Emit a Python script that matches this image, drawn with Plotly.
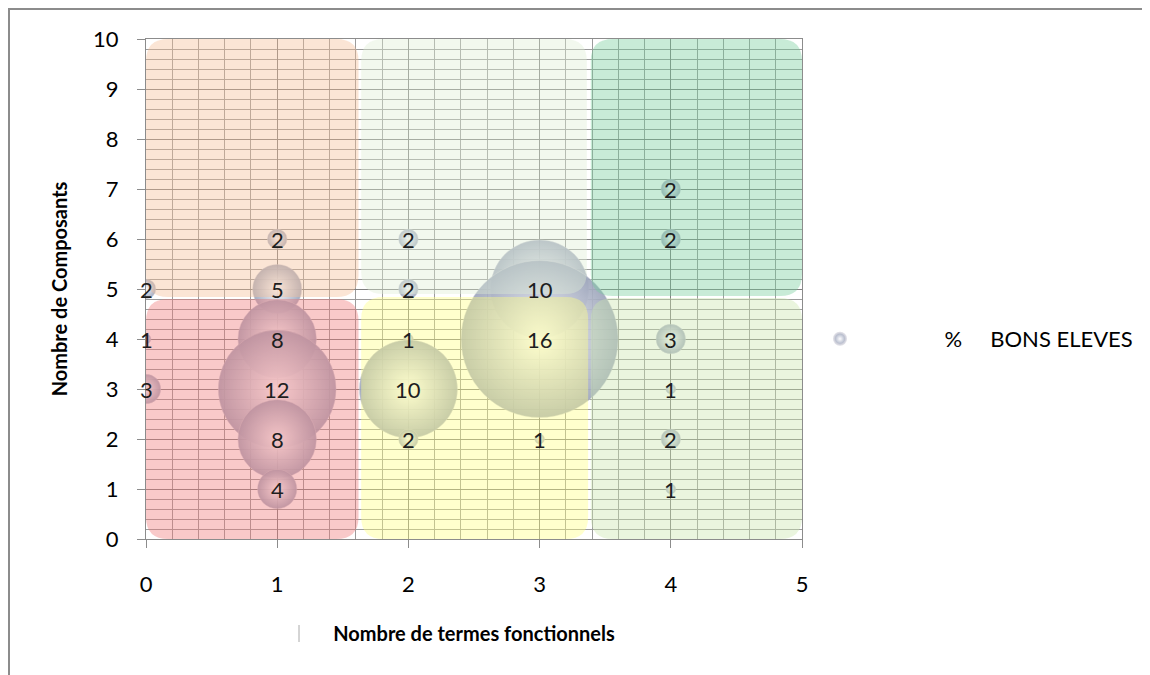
import plotly.graph_objects as go

# ---- data ----
x_terms = [0, 0, 0, 1, 1, 1, 1, 1, 1, 2, 2, 2, 2, 2, 3, 3, 3, 4, 4, 4, 4, 4, 4]
y_comp = [5, 4, 3, 6, 5, 4, 3, 2, 1, 6, 5, 4, 3, 2, 5, 4, 2, 7, 6, 4, 3, 2, 1]
pct_bons = [2, 1, 3, 2, 5, 8, 12, 8, 4, 2, 2, 1, 10, 2, 10, 16, 1, 2, 2, 3, 1, 2, 1]
series_name = "\u00a0" * 15 + "%" + "\u00a0" * 5 + "BONS ELEVES"

x_ticks = [0, 1, 2, 3, 4, 5]
y_ticks = [0, 1, 2, 3, 4, 5, 6, 7, 8, 9, 10]

# background zones
zone_x0 = [0.0, 1.64, 3.39, 0.0, 1.64, 3.39]
zone_x1 = [1.62, 3.36, 5.0, 1.62, 3.37, 5.0]
zone_y0 = [4.84, 4.90, 4.86, 0.0, 0.0, 0.0]
zone_y1 = [10.0, 10.0, 10.0, 4.80, 4.84, 4.82]
zone_col = ["rgba(245,190,150,0.4)", "rgba(222,238,212,0.4)", "rgba(117,205,155,0.4)",
            "rgba(240,120,120,0.4)", "rgba(255,255,130,0.4)", "rgba(202,230,172,0.4)"]

FONT = "Lato, Calibri, Carlito, sans-serif"

fig = go.Figure()

fig.add_trace(go.Scatter(
    x=x_terms, y=y_comp, mode="markers", name=series_name,
    marker=dict(size=pct_bons, sizemode="diameter", sizeref=max(pct_bons) / 157,
                color="rgb(158,166,188)", opacity=0.92,
                gradient=dict(type="radial", color="rgb(253,253,255)"),
                line=dict(width=0.6, color="rgba(210,210,220,0.8)")),
    cliponaxis=True, showlegend=True,
))

annotations = []
for xv, yv, v in zip(x_terms, y_comp, pct_bons):
    annotations.append(dict(x=xv, y=yv, xref="x", yref="y", text=str(v), showarrow=False,
                            font=dict(family=FONT, size=22, color="#1e1e1e"),
                            xanchor="center", yanchor="middle"))

def rounded(x0, x1, y0, y1, rx=0.17, ry=0.44):
    return (f"M {x0+rx},{y0} L {x1-rx},{y0} Q {x1},{y0} {x1},{y0+ry} "
            f"L {x1},{y1-ry} Q {x1},{y1} {x1-rx},{y1} L {x0+rx},{y1} "
            f"Q {x0},{y1} {x0},{y1-ry} L {x0},{y0+ry} Q {x0},{y0} {x0+rx},{y0} Z")

shapes = []
for a, b, c, d, col in zip(zone_x0, zone_x1, zone_y0, zone_y1, zone_col):
    shapes.append(dict(type="path", path=rounded(a, b, c, d), xref="x", yref="y",
                       fillcolor=col, line=dict(width=0), layer="above"))

# figure geometry (page has an 8px body margin)
OFF = 8
W, H = 1142, 667
L, T = 138, 31
pw, ph = 656, 500
R, B = W - L - pw, H - T - ph

def px(page_x):
    return (page_x - OFF - L) / pw

def py(page_y):
    return (H - B - (page_y - OFF)) / ph

bc = "rgb(140,140,140)"
shapes.append(dict(type="line", xref="paper", yref="paper", x0=px(8), x1=px(1152), y0=py(9), y1=py(9),
                   line=dict(color=bc, width=2), layer="above"))
shapes.append(dict(type="line", xref="paper", yref="paper", x0=px(9), x1=px(9), y0=py(9), y1=py(677),
                   line=dict(color=bc, width=2), layer="above"))
shapes.append(dict(type="line", xref="paper", yref="paper", x0=px(299), x1=px(299), y0=py(625), y1=py(642),
                   line=dict(color="rgb(170,170,170)", width=1), layer="above"))

fig.update_layout(
    width=W, height=H,
    margin=dict(l=L, r=R, t=T, b=B),
    paper_bgcolor="white", plot_bgcolor="white",
    font=dict(family=FONT, size=22, color="black"),
    shapes=shapes,
    annotations=annotations,
    showlegend=True,
    legend=dict(x=px(820), y=0.4, xanchor="left", yanchor="middle",
                font=dict(family=FONT, size=22, color="black"),
                itemsizing="constant", bgcolor="rgba(0,0,0,0)"),
    xaxis=dict(range=[0, 5], tickvals=x_ticks, showgrid=True,
               gridcolor="rgb(128,128,128)", gridwidth=1,
               minor=dict(dtick=0.2, showgrid=True, gridcolor="rgb(155,155,155)", gridwidth=1),
               showline=True, linecolor=bc, linewidth=1, mirror=True,
               ticks="outside", ticklen=8, tickcolor=bc,
               ticklabelstandoff=18, zeroline=False,
               tickfont=dict(size=22),
               title=dict(text="<b>Nombre de termes fonctionnels</b>", font=dict(size=20), standoff=30)),
    yaxis=dict(range=[0, 10], tickvals=y_ticks, showgrid=True,
               gridcolor="rgb(128,128,128)", gridwidth=1,
               minor=dict(dtick=0.2, showgrid=True, gridcolor="rgb(155,155,155)", gridwidth=1),
               showline=True, linecolor=bc, linewidth=1, mirror=True,
               ticks="outside", ticklen=8, tickcolor=bc,
               ticklabelstandoff=14, zeroline=False,
               tickfont=dict(size=22),
               title=dict(text="<b>Nombre de Composants</b>", font=dict(size=20), standoff=20)),
)

fig.write_html("out.html")
